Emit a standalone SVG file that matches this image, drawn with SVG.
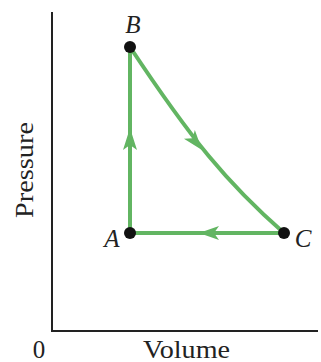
<svg xmlns="http://www.w3.org/2000/svg" width="321" height="362" viewBox="0 0 321 362">
<style>
.ax{stroke:#222;stroke-width:2;fill:none}
.pth{stroke:#62b562;stroke-width:4;fill:none}
.arr{fill:#62b562}
.dot{fill:#111}
.lbl{font-family:"Liberation Serif","DejaVu Serif",serif;font-size:25px;fill:#222}
.it{font-style:italic;font-size:25px}
</style>
<rect width="321" height="362" fill="#fff"/>
<g id="axes">
<path class="ax" d="M52,12 V331 H318"/>
<text class="lbl" x="39" y="358" text-anchor="middle">0</text>
<text class="lbl" x="143" y="358" textLength="87" lengthAdjust="spacingAndGlyphs">Volume</text>
<text class="lbl" x="-218" y="33" textLength="96" lengthAdjust="spacingAndGlyphs" transform="rotate(-90)">Pressure</text>
</g>
<g id="connectors">
<path class="pth" d="M130,233 V47"/>
<path class="pth" d="M130,47 C191,139 227,183 284,233"/>
<path class="pth" d="M284,233 H130"/>
<path class="arr" d="M130,128 L137,150 L130,145 L123,150 Z"/>
<path class="arr" transform="translate(202,150) rotate(51)" d="M0,0 L-20,-7 L-15,0 L-20,7 Z"/>
<path class="arr" d="M199,233 L219,226 L214,233 L219,240 Z"/>
</g>
<g id="node-B"><circle class="dot" cx="130" cy="47" r="6"/><text class="lbl it" x="133" y="33" text-anchor="middle">B</text></g>
<g id="node-A"><circle class="dot" cx="130" cy="233" r="6"/><text class="lbl it" x="112" y="247" text-anchor="middle">A</text></g>
<g id="node-C"><circle class="dot" cx="284" cy="233" r="6"/><text class="lbl it" x="303" y="247" text-anchor="middle">C</text></g>
</svg>
